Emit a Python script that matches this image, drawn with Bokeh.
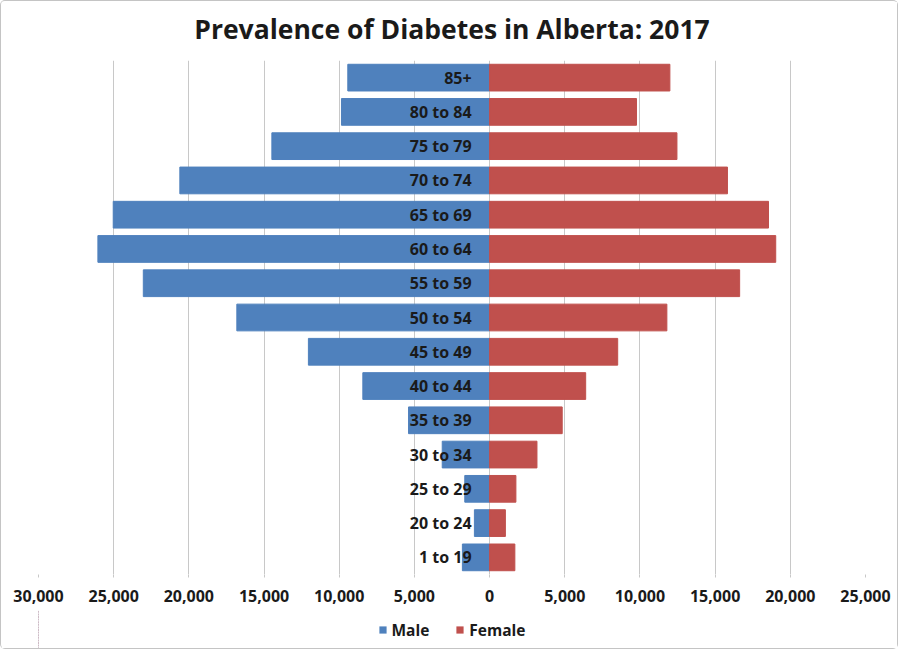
from bokeh.plotting import figure
from bokeh.layouts import column
from bokeh.models import (ColumnDataSource, FactorRange, Range1d, FixedTicker, CustomJSTickFormatter,
                          Legend, LegendItem, Label)
from bokeh.core.properties import value
from bokeh.embed import file_html
from bokeh.resources import INLINE

# ---- data (bottom to top) ----
age_groups = ["1 to 19", "20 to 24", "25 to 29", "30 to 34", "35 to 39", "40 to 44",
              "45 to 49", "50 to 54", "55 to 59", "60 to 64", "65 to 69", "70 to 74",
              "75 to 79", "80 to 84", "85+"]
male = [1810, 1010, 1650, 3150, 5390, 8430, 12050, 16810, 23030, 26050, 25030, 20600,
        14480, 9850, 9430]
female = [1680, 1050, 1750, 3150, 4830, 6390, 8520, 11790, 16630, 19030, 18550, 15820,
          12460, 9770, 11990]
x_ticks = [-30000, -25000, -20000, -15000, -10000, -5000, 0, 5000, 10000, 15000, 20000, 25000]
series_names = ["Male", "Female"]
title_text = "Prevalence of Diabetes in Alberta: 2017"

FONT = "Open Sans"
TXT = "#1a1a1a"
BLUE = "#4F81BD"
RED = "#C0504D"
BORDER = "#c4c4c4"
W = 898

src = ColumnDataSource(dict(
    age=age_groups,
    male_left=[-v for v in male],
    female_right=female,
    zero=[0] * len(age_groups),
))

# ---- title strip ----
top = figure(width=W, height=60, output_backend="svg", toolbar_location=None,
             x_range=Range1d(0, 1), y_range=Range1d(0, 1),
             min_border_left=0, min_border_right=0, min_border_top=0, min_border_bottom=0)
top.axis.visible = False
top.grid.grid_line_color = None
top.outline_line_color = None
top.styles = {"border": f"1px solid {BORDER}", "border-bottom": "none",
              "border-radius": "5px 5px 0 0", "box-sizing": "border-box"}
top.add_layout(Label(x=0.5, y=0.535, text=title_text, text_align="center", text_baseline="middle",
                     text_font=FONT, text_font_size="26.5px", text_font_style="bold",
                     text_color=TXT))

# ---- main chart ----
p = figure(width=W, height=550, output_backend="svg", toolbar_location=None,
           y_range=FactorRange(factors=age_groups, range_padding=0),
           x_range=Range1d(-30000, 25000),
           min_border_left=37, min_border_right=34, min_border_top=0, min_border_bottom=36)
p.styles = {"border-left": f"1px solid {BORDER}", "border-right": f"1px solid {BORDER}",
            "box-sizing": "border-box"}

p.hbar(y="age", left="male_left", right="zero", height=0.78, source=src,
       fill_color=BLUE, line_color=BLUE)
p.hbar(y="age", left="zero", right="female_right", height=0.78, source=src,
       fill_color=RED, line_color=RED)

p.text(x="zero", y="age", text="age", source=src, x_offset=-18,
       text_align="right", text_baseline="middle", text_font=value(FONT),
       text_font_size="16px", text_font_style="bold", text_color=TXT)

p.yaxis.visible = False
p.ygrid.grid_line_color = None
p.xgrid.grid_line_color = "#c8c8c8"
p.xgrid.ticker = FixedTicker(ticks=x_ticks)
p.outline_line_color = None

ax = p.xaxis[0]
ax.ticker = FixedTicker(ticks=x_ticks)
ax.formatter = CustomJSTickFormatter(code="return Math.abs(tick).toLocaleString('en-US');")
ax.axis_line_color = None
ax.major_tick_line_color = "#c8c8c8"
ax.major_tick_in = 0
ax.major_tick_out = 3
ax.minor_tick_line_color = None
ax.major_label_standoff = 12
ax.major_label_text_font = FONT
ax.major_label_text_font_size = "16px"
ax.major_label_text_font_style = "bold"
ax.major_label_text_color = TXT

# ---- legend strip (series renderers kept out of its view; only the legend shows) ----
leg = figure(width=W, height=39, output_backend="svg", toolbar_location=None,
             x_range=Range1d(40000, 50000), y_range=FactorRange(factors=age_groups),
             min_border_left=0, min_border_right=0, min_border_top=0, min_border_bottom=0)
leg.axis.visible = False
leg.grid.grid_line_color = None
leg.outline_line_color = None
leg.styles = {"border": f"1px solid {BORDER}", "border-top": "none",
              "border-radius": "0 0 5px 5px", "box-sizing": "border-box"}
lr_m = leg.hbar(y="age", left="male_left", right="zero", height=0.78, source=src,
                fill_color=BLUE, line_color=None)
lr_f = leg.hbar(y="age", left="zero", right="female_right", height=0.78, source=src,
                fill_color=RED, line_color=None)

legend = Legend(items=[LegendItem(label=series_names[0], renderers=[lr_m]),
                       LegendItem(label=series_names[1], renderers=[lr_f])],
                orientation="horizontal", location="center",
                label_text_font=FONT, label_text_font_size="15.5px", label_text_font_style="bold",
                label_text_color=TXT, glyph_width=9, glyph_height=9,
                spacing=26, label_standoff=5, padding=0, margin=0,
                border_line_color=None, background_fill_alpha=0)
leg.add_layout(legend, "center")

layout = column(top, p, leg, spacing=0)
open("out.html", "w").write(file_html(layout, INLINE))
